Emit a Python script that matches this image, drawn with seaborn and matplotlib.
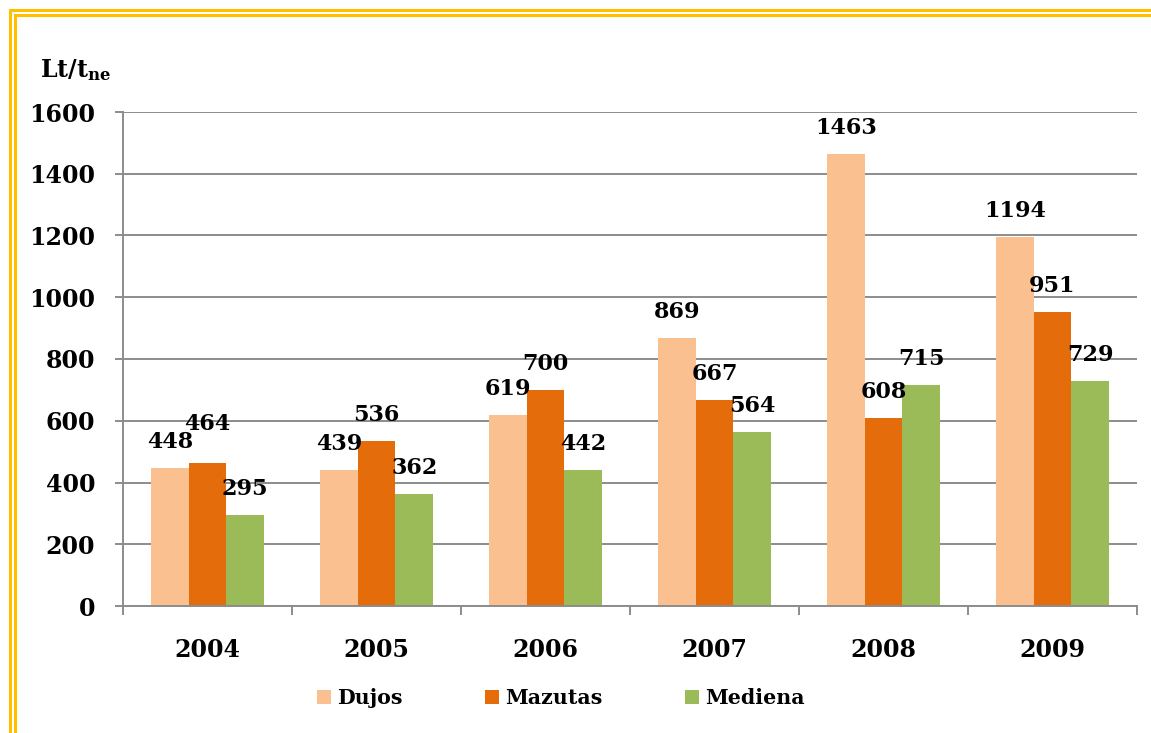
import matplotlib
matplotlib.use("Agg")
import matplotlib.pyplot as plt
from matplotlib.lines import Line2D
from matplotlib.patches import Patch
import seaborn as sns
import pandas as pd
import numpy as np

years = ["2004", "2005", "2006", "2007", "2008", "2009"]
series = ["Dujos", "Mazutas", "Mediena"]
dujos = [448, 439, 619, 869, 1463, 1194]
mazutas = [464, 536, 700, 667, 608, 951]
mediena = [295, 362, 442, 564, 715, 729]
colors = ["#FAC090", "#E46C0A", "#9BBB59"]
yticks = [0, 200, 400, 600, 800, 1000, 1200, 1400, 1600]
ylabel = r"$\mathbf{Lt/t_{ne}}$"

sns.set_style("white")
plt.rcParams["font.family"] = ["DejaVu Serif"]
plt.rcParams["font.weight"] = "bold"
plt.rcParams["mathtext.fontset"] = "dejavuserif"
plt.rcParams["text.color"] = "black"
plt.rcParams["xtick.labelcolor"] = "black"
plt.rcParams["ytick.labelcolor"] = "black"

df = pd.DataFrame({
    "year": years * 3,
    "series": [s for s in series for _ in years],
    "value": dujos + mazutas + mediena,
})

W, H = 1151, 733
fig = plt.figure(figsize=(W / 100, H / 100), dpi=100)
ax = fig.add_axes([123 / W, 1 - 606 / H, (1137 - 123) / W, (606 - 112) / H])

sns.barplot(data=df, x="year", y="value", hue="series", hue_order=series,
            palette=colors, saturation=1, width=0.67, linewidth=0,
            legend=False, ax=ax, errorbar=None)

ax.set_xlim(-0.5, len(years) - 0.5)
ax.set_ylim(0, 1600)
ax.set_yticks(yticks)
ax.set_yticklabels([str(v) for v in yticks], fontsize=17, fontweight="bold")
ax.yaxis.grid(True, color="#8c8c8c", linewidth=1.4)
ax.set_axisbelow(True)
ax.set_xlabel("")
ax.set_ylabel("")

# x ticks at category boundaries, labels at centers
ax.set_xticks(np.arange(-0.5, len(years)), minor=False)
ax.set_xticklabels([""] * (len(years) + 1))
ax.set_xticks(np.arange(len(years)), minor=True)
ax.set_xticklabels(years, minor=True, fontsize=17, fontweight="bold")
ax.tick_params(axis="x", which="major", direction="out", length=6.5, width=1.4,
               color="#8c8c8c", bottom=True)
ax.tick_params(axis="x", which="minor", length=0, pad=23)
ax.tick_params(axis="y", direction="out", length=6, width=1.4, color="#8c8c8c",
               left=True, pad=14)

for side in ["top", "right"]:
    ax.spines[side].set_visible(False)
for side in ["left", "bottom"]:
    ax.spines[side].set_color("#8c8c8c")
    ax.spines[side].set_linewidth(1.4)

# value labels (one label lifted to avoid its neighbour, as in the original)
extra_lift = {("Mazutas", 0): 13}
for s_idx, container in enumerate(ax.containers):
    for i, bar in enumerate(container):
        h = bar.get_height()
        lift = 26 + extra_lift.get((series[s_idx], i), 0)
        ax.annotate(f"{h:.0f}", (bar.get_x() + bar.get_width() / 2, h),
                    xytext=(0, lift), textcoords="offset pixels",
                    ha="center", va="center", fontsize=16, fontweight="bold",
                    color="black", clip_on=False)

fig.text(40 / W, 1 - 70 / H, ylabel, fontsize=17, ha="left", va="center",
         color="black")

handles = [Patch(facecolor=c, edgecolor="none") for c in colors]
fig.legend(handles, series, loc="center", bbox_to_anchor=(561 / W, 1 - 698 / H),
           ncol=3, frameon=False, handlelength=0.68, handleheight=0.68,
           handletextpad=0.3, columnspacing=4.0, labelcolor="black",
           prop={"size": 14.8, "weight": "bold", "family": "DejaVu Serif"})

# double gold border
gold = "#FFC000"
def px(x, y):
    return x / W, 1 - y / H
for off in (9.7, 14.7):
    xs, ys = zip(px(off, H + 10), px(off, off), px(W + 10, off))
    fig.add_artist(Line2D(xs, ys, transform=fig.transFigure, color=gold,
                          linewidth=2.2, solid_joinstyle="miter"))

fig.savefig("out.png", dpi=100)
